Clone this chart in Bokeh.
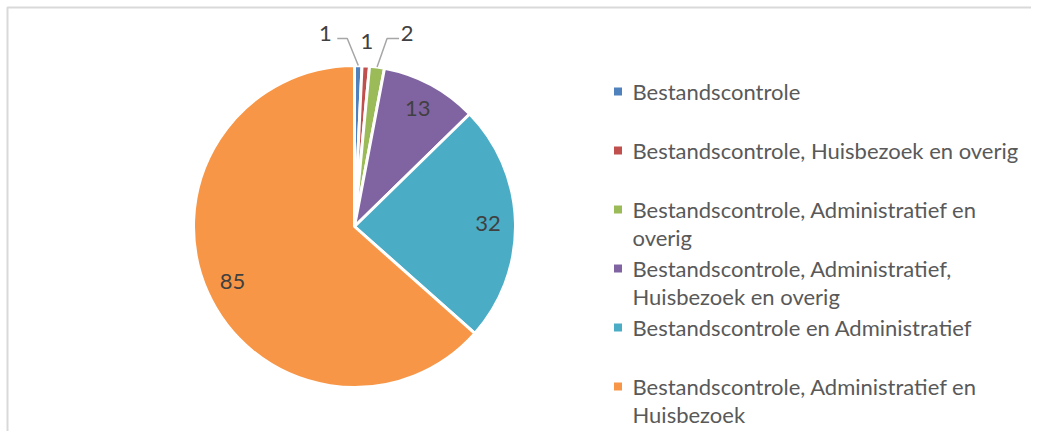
import math
import textwrap
from bokeh.plotting import figure
from bokeh.models import Range1d
from bokeh.core.properties import value
from bokeh.embed import file_html
from bokeh.resources import INLINE

# ---- data ----
categories = [
    "Bestandscontrole",
    "Bestandscontrole, Huisbezoek en overig",
    "Bestandscontrole, Administratief en overig",
    "Bestandscontrole, Administratief, Huisbezoek en overig",
    "Bestandscontrole en Administratief",
    "Bestandscontrole, Administratief en Huisbezoek",
]
counts = [1, 1, 2, 13, 32, 85]
colors = ["#4f81bd", "#c0504d", "#9bbb59", "#8064a2", "#4bacc6", "#f79646"]

FONT = "Lato"
W, H = 1031, 431


def sy(y):
    # screen y (pixels from top of figure) -> data y
    return H - y


p = figure(width=W, height=H, x_range=Range1d(0, W), y_range=Range1d(0, H),
           output_backend="svg", toolbar_location=None, min_border=0)
p.axis.visible = False
p.grid.visible = False
p.outline_line_color = None
p.background_fill_color = "white"

# frame border
p.line(x=[7, 7, 1040], y=[sy(440), sy(7), sy(7)], line_color="#d9d9d9", line_width=2)

# ---- pie ----
cx, cy, R = 354, sy(226), 161
total = float(sum(counts))
cum = 0.0
starts, ends, mids = [], [], []
for v in counts:
    a0 = math.pi / 2 - 2 * math.pi * cum / total
    cum += v
    a1 = math.pi / 2 - 2 * math.pi * cum / total
    starts.append(a0)
    ends.append(a1)
    mids.append((a0 + a1) / 2)

p.wedge(x=[cx] * len(counts), y=[cy] * len(counts), radius=R,
        start_angle=starts, end_angle=ends, direction="clock",
        fill_color=colors, line_color="white", line_width=3)

# inside labels
in_x, in_y, in_t = [], [], []
for v, m in zip(counts, mids):
    if v >= 10:
        in_x.append(cx + 0.83 * R * math.cos(m))
        in_y.append(cy + 0.83 * R * math.sin(m))
        in_t.append(str(v))
p.text(x=in_x, y=in_y, text=in_t, text_align="center", text_baseline="middle",
       text_font=value(FONT), text_font_size="22px", text_color="#404040")

# outside labels for small slices with leader lines
small = [i for i, v in enumerate(counts) if v < 10]
sides = ["left", None, "right"]
for k, i in enumerate(small):
    m = mids[i]
    ex = cx + R * math.cos(m)
    ey = cy + R * math.sin(m)
    side = sides[k]
    lab_y = sy(33) if side else sy(41)
    if side == "left":
        ax, ay = ex - 11, sy(38)
        p.line(x=[ex, ax, ax - 10], y=[ey, ay, ay], line_color="#a6a6a6", line_width=1.5)
        lx = ax - 22
    elif side == "right":
        ax, ay = ex + 10, sy(38)
        p.line(x=[ex, ax, ax + 12], y=[ey, ay, ay], line_color="#a6a6a6", line_width=1.5)
        lx = ax + 20
    else:
        lx = ex + 1
    p.text(x=[lx], y=[lab_y], text=[str(counts[i])], text_align="center",
           text_baseline="middle", text_font=value(FONT), text_font_size="22px",
           text_color="#404040")

# ---- legend ----
mx, tx = 617.5, 632
for i, (cat, col) in enumerate(zip(categories, colors)):
    y0 = 91 + 59 * i
    p.rect(x=[mx], y=[sy(y0)], width=8, height=8, fill_color=col, line_color=None)
    lines = textwrap.wrap(cat, 38)
    p.text(x=[tx] * len(lines), y=[sy(y0 + 28 * j) for j in range(len(lines))], text=lines,
           text_align="left", text_baseline="middle", text_font=value(FONT),
           text_font_size="22px", text_color="#595959")

open("out.html", "w").write(file_html(p, INLINE))
